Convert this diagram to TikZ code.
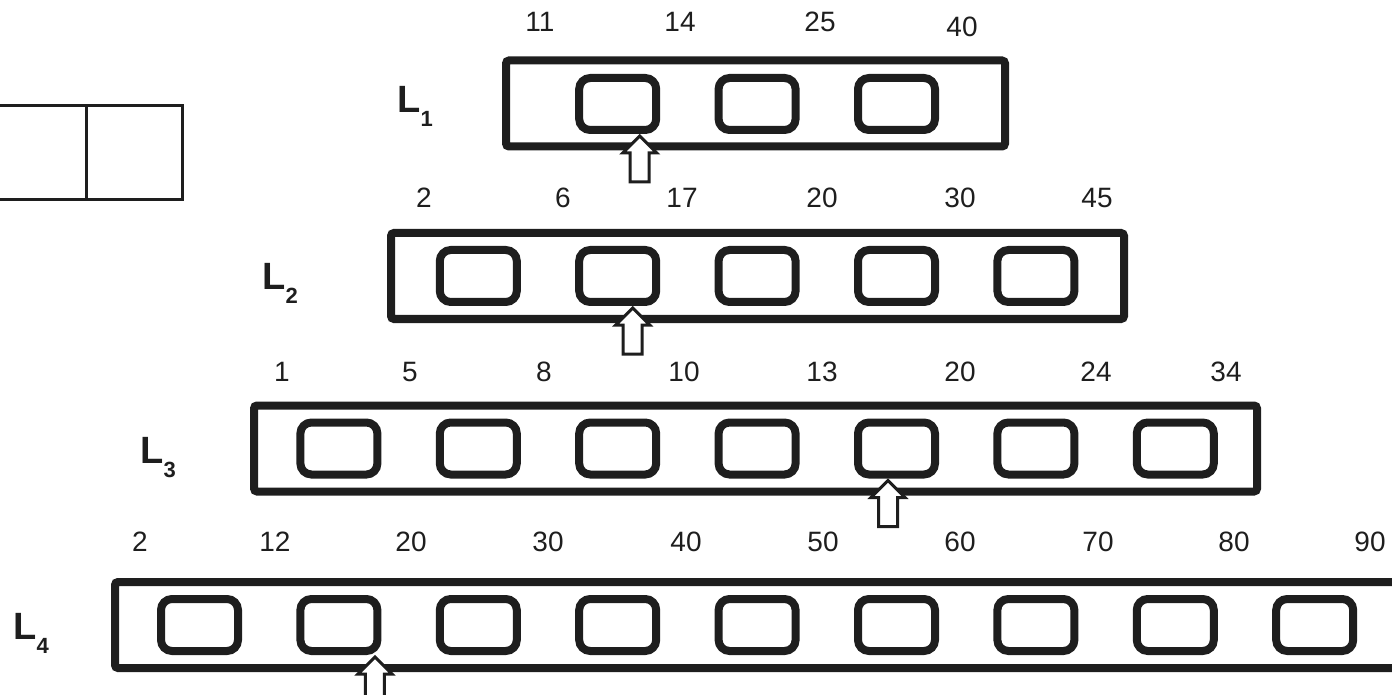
\documentclass[tikz,border=0pt]{standalone}
\usepackage{fontspec}
\setmainfont{Liberation Sans}
\usepackage{xcolor}
\definecolor{ink}{HTML}{1E1E1E}
\usepackage{tikz}
\usetikzlibrary{positioning}
\newcommand{\lsub}[1]{\raisebox{-7pt}{\fontsize{11}{11}\selectfont #1}}

\begin{document}
\begin{tikzpicture}[x=0.5pt, y=-0.5pt,
  lev/.style={draw=ink, line width=4pt, rounded corners=1.5pt, minimum height=43pt, inner sep=0pt},
  slot/.style={draw=ink, line width=4pt, rounded corners=5.5pt, minimum width=38.5pt, minimum height=26pt, inner sep=0pt},
  key/.style={anchor=base, inner sep=0pt, text=ink, font=\fontsize{14}{14}\selectfont},
  lab/.style={anchor=base west, inner sep=0pt, text=ink, font=\bfseries\fontsize{19}{19}\selectfont},
  cell/.style={draw=ink, line width=1.5pt, minimum width=48pt, minimum height=47.25pt, inner sep=0pt, outer sep=0pt},
  ptr/.style={draw=ink, fill=white, line width=1.5pt, line join=miter}]
  \useasboundingbox (0,0) rectangle (1392,695);
  \clip (0,0) rectangle (1392,695);
  % two cells on the left
  \node[cell] (c1) at (38,152.75) {};
  \node[cell, right=0pt of c1] (c2) {};
  % levels
  \node[lev, minimum width=249.5pt] (l1) at (755.5,103.5) {};
  \node[lev, minimum width=366.5pt] (l2) at (757.5,276) {};
  \node[lev, minimum width=501.5pt] (l3) at (755.5,448.5) {};
  \node[lev, minimum width=652.5pt] (l4) at (767.5,625) {};
  \node[lab] (n1) at (397,113) {L\lsub{1}};
  \node[lab] (n2) at (262,290) {L\lsub{2}};
  \node[lab] (n3) at (140,463) {L\lsub{3}};
  \node[lab] (n4) at (13,639) {L\lsub{4}};
  % slots
  \foreach \lv/\yy/\from/\to in {1/104/3/5, 2/276/2/6, 3/448.5/1/7, 4/625/0/8}
    \foreach \k in {\from,...,\to}
      \node[slot] (s\lv-\k) at ({199.5+139.4*\k},\yy) {};
  % keys
  \foreach \v/\xx [count=\i] in {11/540, 14/680, 25/820}
    \node[key] (k1-\i) at (\xx,32) {\v};
  \node[key] (k1-4) at (962,37) {40};
  \foreach \v/\xx [count=\i] in {2/424, 6/563, 17/682, 20/822, 30/960, 45/1097}
    \node[key] (k2-\i) at (\xx,208) {\v};
  \foreach \v/\xx [count=\i] in {1/282, 5/410, 8/544, 10/684, 13/822, 20/960, 24/1096, 34/1226}
    \node[key] (k3-\i) at (\xx,381) {\v};
  \foreach \v/\xx [count=\i] in {2/140, 12/275, 20/411, 30/548, 40/686, 50/823, 60/960, 70/1098, 80/1234, 90/1370}
    \node[key] (k4-\i) at (\xx,551) {\v};
  % pointers
  \coordinate (t1) at ([xshift=11pt, yshift=-1pt]s1-3.south);
  \coordinate (t2) at ([xshift=7.5pt, yshift=-1pt]s2-3.south);
  \coordinate (t3) at ([xshift=-4.25pt, yshift=-1pt]s3-5.south);
  \coordinate (t4) at ([xshift=18pt, yshift=-1pt]s4-1.south);
  \foreach \t in {t1, t2, t3, t4}
    \draw[ptr] (\t) -- ++(17,17) -- ++(-7.5,0) -- ++(0,29) -- ++(-19,0) -- ++(0,-29) -- ++(-7.5,0) -- cycle;
\end{tikzpicture}
\end{document}
